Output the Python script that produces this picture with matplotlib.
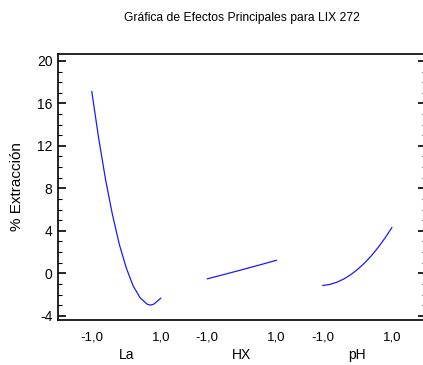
import matplotlib
matplotlib.use("Agg")
import matplotlib.pyplot as plt
from matplotlib.ticker import MultipleLocator
from matplotlib.transforms import blended_transform_factory

# values (coded factor level -> % extraction)
factors = ["La", "HX", "pH"]
tick_text = ["-1,0", "1,0"]

la_x = [-1.0, -0.8, -0.6, -0.4, -0.2, 0.0, 0.2, 0.4, 0.6, 0.7, 0.8, 1.0]
la_y = [17.1, 12.7, 8.8, 5.5, 2.7, 0.5, -1.2, -2.3, -2.9, -3.0, -2.9, -2.35]

hx_x = [-1.0, -0.5, 0.0, 0.5, 1.0]
hx_y = [-0.52, -0.1, 0.33, 0.77, 1.22]

ph_x = [-1.0, -0.8, -0.6, -0.4, -0.2, 0.0, 0.2, 0.4, 0.6, 0.8, 1.0]
ph_y = [-1.15, -1.05, -0.85, -0.55, -0.15, 0.35, 0.94, 1.63, 2.42, 3.31, 4.3]

curves = [(la_x, la_y), (hx_x, hx_y), (ph_x, ph_y)]

plt.rcParams["font.family"] = ["Liberation Sans", "DejaVu Sans"]

fig = plt.figure(figsize=(4.23, 3.65), dpi=100)
ax = fig.add_axes([58 / 423, 45 / 365, 368 / 423, 266 / 365])

offset = 3.35
for i, (xs, ys) in enumerate(curves):
    ax.plot([x + i * offset for x in xs], ys, color="#1a1aff", lw=0.9)

ax.set_xlim(-1.98, 8.69)
ax.set_ylim(-4.4, 20.65)

ticks = []
labels = []
for i in range(len(factors)):
    ticks += [-1 + i * offset, 1 + i * offset]
    labels += tick_text
ax.set_xticks(ticks)
ax.set_xticklabels(labels, fontsize=9.5)
ax.tick_params(axis="x", length=0, pad=8)

trans = blended_transform_factory(ax.transData, fig.transFigure)
for i, name in enumerate(factors):
    ax.text(i * offset, 1 - 355 / 365, name, transform=trans,
            ha="center", va="center", fontsize=10)

ax.yaxis.set_major_locator(MultipleLocator(4))
ax.yaxis.set_minor_locator(MultipleLocator(1))
ax.set_yticks([-4, 0, 4, 8, 12, 16, 20])
ax.set_yticklabels(["-4", "0", "4", "8", "12", "16", "20"], fontsize=10)
ax.tick_params(axis="y", which="major", direction="in", length=6, width=1.2,
               left=True, right=True, pad=4)
ax.tick_params(axis="y", which="minor", direction="in", length=3, width=0.8,
               left=True, right=True)

for s in ax.spines.values():
    s.set_linewidth(1.2)

ax.set_ylabel("% Extracción", fontsize=11, labelpad=9)

fig.text(242 / 423, 1 - 18 / 365, "Gráfica de Efectos Principales para LIX 272",
         ha="center", va="center", fontsize=8.7)

fig.savefig("out.png", dpi=100)
plt.close(fig)
